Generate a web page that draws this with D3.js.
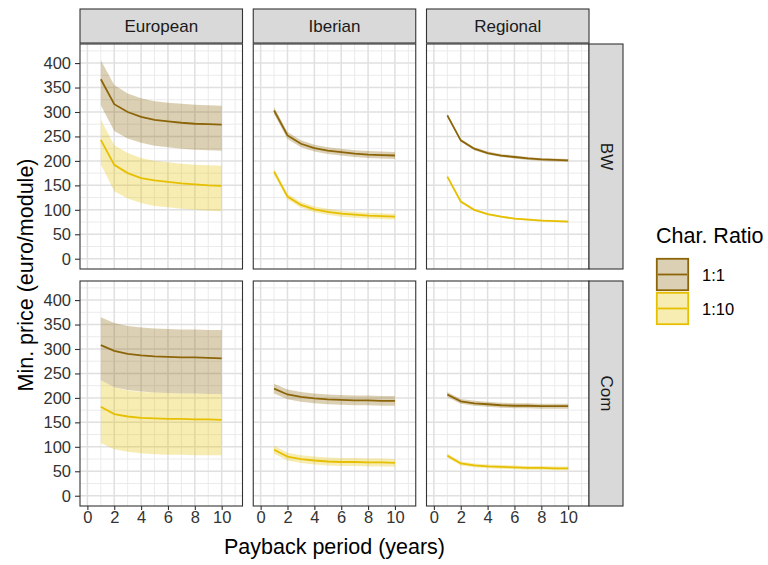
<!DOCTYPE html>
<html>
<head>
<meta charset="utf-8">
<script src="https://cdn.jsdelivr.net/npm/d3@7"></script>
<style>
  body { margin: 0; background: #fff; }
  svg { font-family: "Liberation Sans", Arial, sans-serif; }
</style>
</head>
<body>
<svg id="chart" width="768" height="565"></svg>
<script>
// data
const years = [1, 2, 3, 4, 5, 6, 7, 8, 9, 10];
const regions = ["European", "Iberian", "Regional"];
const types = ["BW", "Com"];
const ratios = ["1:1", "1:10"];
const yTicks = [0, 50, 100, 150, 200, 250, 300, 350, 400];
const xTicks = [0, 2, 4, 6, 8, 10];

const euBW11 = { mid: [367, 316, 300, 290, 284, 281, 278, 276, 275, 274],
                 lo:  [314, 261, 246, 237, 231, 228, 225, 223, 222, 221],
                 hi:  [406, 355, 338, 328, 322, 319, 317, 315, 314, 313] };
const euBW110 = { mid: [243, 192, 175, 165, 160, 157, 154, 152, 150, 149],
                  lo:  [193, 138, 123, 114, 108, 105, 102, 100, 98, 97],
                  hi:  [284, 232, 216, 206, 200, 197, 194, 192, 191, 190] };
const ibBW11 = { mid: [303, 252, 235, 226, 221, 218, 215, 213, 212, 211],
                 lo:  [296, 245, 228, 219, 214, 211, 208, 206, 205, 204],
                 hi:  [310, 259, 242, 233, 228, 225, 222, 220, 219, 218] };
const ibBW110 = { mid: [178, 127, 110, 101, 96, 92, 90, 88, 87, 86],
                  lo:  [172, 121, 104, 95, 90, 86, 84, 82, 81, 80],
                  hi:  [184, 133, 116, 107, 102, 98, 96, 94, 93, 92] };
const reBW11 = { mid: [293, 242, 225, 216, 211, 208, 205, 203, 202, 201],
                 lo:  [290, 239, 222, 213, 208, 205, 202, 200, 199, 198],
                 hi:  [296, 245, 228, 219, 214, 211, 208, 206, 205, 204] };
const reBW110 = { mid: [168, 117, 100, 91, 86, 82, 80, 78, 77, 76],
                  lo:  [166, 115, 98, 89, 84, 80, 78, 76, 75, 74],
                  hi:  [170, 119, 102, 93, 88, 84, 82, 80, 79, 78] };

const euCom11 = { mid: [308, 296, 290, 287, 285, 284, 283, 283, 282, 281],
                  lo:  [236, 222, 216, 213, 211, 210, 209, 209, 208, 208],
                  hi:  [365, 353, 347, 344, 342, 341, 340, 340, 339, 339] };
const euCom110 = { mid: [182, 167, 162, 159, 158, 157, 157, 156, 156, 155],
                   lo:  [108, 95, 90, 87, 85, 84, 84, 83, 83, 83],
                   hi:  [236, 222, 215, 212, 211, 210, 209, 209, 208, 208] };
const ibCom11 = { mid: [219, 207, 202, 199, 197, 196, 195, 195, 194, 194],
                  lo:  [209, 197, 192, 189, 187, 186, 185, 185, 184, 184],
                  hi:  [229, 217, 212, 209, 207, 206, 205, 205, 204, 204] };
const ibCom110 = { mid: [94, 80, 75, 72, 70, 69, 69, 68, 68, 67],
                   lo:  [86, 72, 67, 64, 62, 61, 61, 60, 60, 59],
                   hi:  [102, 88, 83, 80, 78, 77, 77, 76, 76, 75] };
const reCom11 = { mid: [207, 193, 189, 187, 185, 184, 184, 183, 183, 183],
                  lo:  [202, 188, 184, 182, 180, 179, 179, 178, 178, 178],
                  hi:  [212, 198, 194, 192, 190, 189, 189, 188, 188, 188] };
const reCom110 = { mid: [82, 66, 62, 60, 59, 58, 57, 57, 56, 56],
                   lo:  [78, 62, 58, 56, 55, 54, 53, 53, 52, 52],
                   hi:  [86, 70, 66, 64, 63, 62, 61, 61, 60, 60] };

const panelData = {
  "European": { BW: [euBW11, euBW110], Com: [euCom11, euCom110] },
  "Iberian":  { BW: [ibBW11, ibBW110], Com: [ibCom11, ibCom110] },
  "Regional": { BW: [reBW11, reBW110], Com: [reCom11, reCom110] }
};

const lineColors = ["#8B6508", "#E6C000"];
const fillAlpha = 0.3;

// layout
const colLeft = [80, 253.25, 426.5];
const rowTop = [44, 281];
const pw = 162.5, ph = 225;
const stripH = 34;
const dark = "#333333";
const tickFont = "16.5px";

const svg = d3.select("#chart");

const x = d3.scaleLinear().domain([-0.55, 11.55]).range([0, pw]);
const y = d3.scaleLinear().domain([-21, 439]).range([ph, 0]);

const area = d3.area()
    .x((d, i) => x(years[i]))
    .y0(d => y(d[0]))
    .y1(d => y(d[1]));
const line = d3.line()
    .x((d, i) => x(years[i]))
    .y(d => y(d));

types.forEach(function (type, r) {
  regions.forEach(function (region, c) {
    const g = svg.append("g")
        .attr("transform", `translate(${colLeft[c]},${rowTop[r]})`);

    // grid
    const minorX = d3.range(1, 12, 2), minorY = d3.range(25, 430, 50);
    g.selectAll(".mx").data(minorX).enter().append("line")
        .attr("x1", d => x(d)).attr("x2", d => x(d))
        .attr("y1", 0).attr("y2", ph)
        .attr("stroke", "#EBEBEB").attr("stroke-width", 1);
    g.selectAll(".my").data(minorY).enter().append("line")
        .attr("y1", d => y(d)).attr("y2", d => y(d))
        .attr("x1", 0).attr("x2", pw)
        .attr("stroke", "#EBEBEB").attr("stroke-width", 1);
    g.selectAll(".gx").data(xTicks).enter().append("line")
        .attr("x1", d => x(d)).attr("x2", d => x(d))
        .attr("y1", 0).attr("y2", ph)
        .attr("stroke", "#E0E0E0").attr("stroke-width", 1.5);
    g.selectAll(".gy").data(yTicks).enter().append("line")
        .attr("y1", d => y(d)).attr("y2", d => y(d))
        .attr("x1", 0).attr("x2", pw)
        .attr("stroke", "#E0E0E0").attr("stroke-width", 1.5);

    const series = panelData[region][type];
    series.forEach(function (s, k) {
      g.append("path")
          .datum(s.lo.map((v, i) => [v, s.hi[i]]))
          .attr("d", area)
          .attr("fill", lineColors[k])
          .attr("fill-opacity", fillAlpha);
    });
    series.forEach(function (s, k) {
      g.append("path")
          .datum(s.mid)
          .attr("d", line)
          .attr("fill", "none")
          .attr("stroke", lineColors[k])
          .attr("stroke-width", 1.8);
    });

    g.append("rect")
        .attr("width", pw).attr("height", ph)
        .attr("fill", "none").attr("stroke", dark).attr("stroke-width", 1.1);

    if (c === 0) {
      const ax = g.append("g")
          .call(d3.axisLeft(y).tickValues(yTicks).tickSize(5).tickPadding(4));
      ax.select(".domain").remove();
      ax.selectAll("line").attr("stroke", dark).attr("stroke-width", 1.1);
      ax.selectAll("text").attr("fill", "#333333").style("font-size", tickFont)
          .style("font-family", "Liberation Sans, Arial, sans-serif");
    }
    if (r === 1) {
      const ax = g.append("g")
          .attr("transform", `translate(0,${ph})`)
          .call(d3.axisBottom(x).tickValues(xTicks).tickSize(4).tickPadding(1.5));
      ax.select(".domain").remove();
      ax.selectAll("line").attr("stroke", dark).attr("stroke-width", 1.1);
      ax.selectAll("text").attr("fill", "#333333").style("font-size", tickFont)
          .style("font-family", "Liberation Sans, Arial, sans-serif");
    }

    // column strips
    if (r === 0) {
      const st = svg.append("g")
          .attr("transform", `translate(${colLeft[c]},${rowTop[0] - stripH - 1})`);
      st.append("rect").attr("width", pw).attr("height", stripH)
          .attr("fill", "#D9D9D9").attr("stroke", dark).attr("stroke-width", 1.1);
      st.append("text").attr("x", pw / 2).attr("y", stripH / 2)
          .attr("text-anchor", "middle").attr("dominant-baseline", "central")
          .attr("fill", "#1A1A1A").style("font-size", "17px").text(region);
    }
    // row strips
    if (c === 2) {
      const st = svg.append("g")
          .attr("transform", `translate(${colLeft[2] + pw},${rowTop[r]})`);
      st.append("rect").attr("width", stripH).attr("height", ph)
          .attr("fill", "#D9D9D9").attr("stroke", dark).attr("stroke-width", 1.1);
      st.append("text")
          .attr("transform", `translate(${stripH / 2},${ph / 2}) rotate(90)`)
          .attr("text-anchor", "middle").attr("dominant-baseline", "central")
          .attr("fill", "#1A1A1A").style("font-size", "17px").text(type);
    }
  });
});

// axis titles
svg.append("text")
    .attr("x", colLeft[0] + (colLeft[2] + pw - colLeft[0]) / 2)
    .attr("y", 554)
    .attr("text-anchor", "middle")
    .style("font-size", "21.5px")
    .text("Payback period (years)");

svg.append("text")
    .attr("transform", `translate(33,${(rowTop[0] + rowTop[1] + ph) / 2}) rotate(-90)`)
    .attr("text-anchor", "middle")
    .style("font-size", "21.5px")
    .text("Min. price (euro/module)");

// legend
const legend = svg.append("g").attr("transform", "translate(656,243)");
legend.append("text").attr("x", 0).attr("y", 0)
    .style("font-size", "21.5px").text("Char. Ratio");
const keySize = 33;
ratios.forEach(function (lab, k) {
  const kg = legend.append("g").attr("transform", `translate(0,${15 + k * (keySize + 1)})`);
  kg.append("rect").attr("x", 0.8).attr("y", 0.8)
      .attr("width", keySize - 1.6).attr("height", keySize - 1.6)
      .attr("fill", lineColors[k]).attr("fill-opacity", fillAlpha)
      .attr("stroke", lineColors[k]).attr("stroke-width", 1.8);
  kg.append("line").attr("x1", 2).attr("x2", keySize - 2)
      .attr("y1", keySize / 2).attr("y2", keySize / 2)
      .attr("stroke", lineColors[k]).attr("stroke-width", 1.8);
  kg.append("text").attr("x", keySize + 13).attr("y", keySize / 2)
      .attr("dominant-baseline", "central")
      .style("font-size", "16.5px").text(lab);
});
</script>
</body>
</html>
